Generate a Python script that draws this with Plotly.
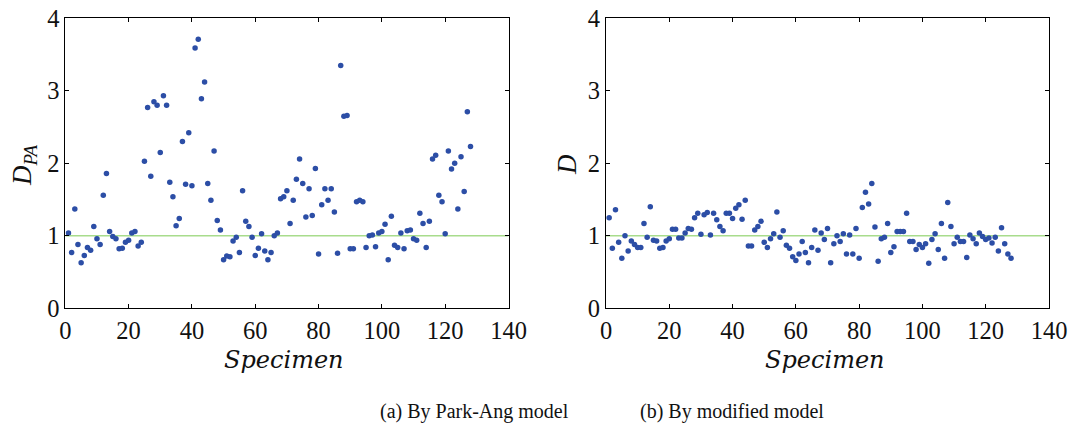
import plotly.graph_objects as go

specimen = list(range(1, 129))

d_pa = [
    1.04, 0.77, 1.37, 0.88, 0.63, 0.73, 0.84, 0.80, 1.13, 0.96,
    0.88, 1.56, 1.86, 1.06, 0.99, 0.96, 0.82, 0.83, 0.91, 0.94,
    1.04, 1.06, 0.86, 0.91, 2.03, 2.77, 1.82, 2.85, 2.80, 2.15,
    2.93, 2.80, 1.74, 1.54, 1.14, 1.24, 2.30, 1.71, 2.42, 1.69,
    3.59, 3.71, 2.89, 3.12, 1.72, 1.49, 2.17, 1.21, 1.08, 0.67,
    0.72, 0.71, 0.93, 0.98, 0.77, 1.62, 1.20, 1.13, 0.98, 0.73,
    0.83, 1.03, 0.79, 0.67, 0.77, 1.00, 1.04, 1.51, 1.54, 1.62,
    1.17, 1.49, 1.78, 2.06, 1.72, 1.26, 1.65, 1.28, 1.93, 0.75,
    1.43, 1.65, 1.49, 1.65, 1.33, 0.76, 3.35, 2.65, 2.66, 0.82,
    0.82, 1.47, 1.49, 1.47, 0.84, 1.00, 1.01, 0.85, 1.04, 1.06,
    1.16, 0.67, 1.27, 0.87, 0.84, 1.04, 0.82, 1.07, 1.08, 0.96,
    0.94, 1.31, 1.17, 0.84, 1.20, 2.06, 2.11, 1.56, 1.47, 1.03,
    2.17, 1.92, 2.00, 1.37, 2.09, 1.61, 2.71, 2.23,
]

d_mod = [
    1.25, 0.83, 1.36, 0.91, 0.69, 1.00, 0.79, 0.93, 0.88, 0.84,
    0.84, 1.17, 0.98, 1.40, 0.94, 0.93, 0.83, 0.84, 0.93, 0.96,
    1.09, 1.09, 0.97, 0.97, 1.04, 1.10, 1.09, 1.25, 1.31, 1.02,
    1.29, 1.32, 1.01, 1.31, 1.22, 1.13, 1.07, 1.31, 1.31, 1.24,
    1.38, 1.43, 1.23, 1.49, 0.86, 0.86, 1.08, 1.13, 1.20, 0.91,
    0.84, 0.96, 1.03, 1.33, 0.98, 1.07, 0.87, 0.83, 0.71, 0.66,
    0.75, 0.92, 0.77, 0.63, 0.84, 1.08, 0.80, 1.04, 0.95, 1.10,
    0.63, 0.89, 1.00, 0.92, 1.03, 0.75, 1.01, 0.75, 1.10, 0.69,
    1.39, 1.60, 1.44, 1.72, 1.12, 0.65, 0.96, 0.98, 1.17, 0.77,
    0.85, 1.06, 1.06, 1.06, 1.31, 0.92, 0.92, 0.81, 0.88, 0.84,
    0.89, 0.62, 0.95, 1.03, 0.81, 1.17, 0.69, 1.46, 1.13, 0.89,
    0.98, 0.92, 0.92, 0.70, 1.01, 0.96, 0.89, 1.04, 0.99, 0.95,
    0.97, 0.90, 0.98, 0.79, 1.11, 0.89, 0.75, 0.69,
]

x_ticks = [0, 20, 40, 60, 80, 100, 120, 140]
y_ticks = [0, 1, 2, 3, 4]
ref_x = [0, 140]
ref_y = [1, 1]

dot_color = "#2c4ea6"
line_color = "#a8dc8c"
serif = "Liberation Serif"
wide_serif = "DejaVu Serif"

W, H = 1076, 426
OX, OY = 8, 8  # page body margin offset


def px(v):
    return (v - OX) / W


def py(v):
    return 1 - (v - OY) / H


fig = go.Figure()
for i, vals in enumerate([d_pa, d_mod]):
    xa = "x" if i == 0 else "x2"
    ya = "y" if i == 0 else "y2"
    fig.add_trace(go.Scatter(x=ref_x, y=ref_y, mode="lines",
                             line=dict(color=line_color, width=1.5),
                             xaxis=xa, yaxis=ya, showlegend=False, hoverinfo="skip"))
    fig.add_trace(go.Scatter(x=specimen, y=vals, mode="markers",
                             marker=dict(color=dot_color, size=5.5, line=dict(width=0)),
                             xaxis=xa, yaxis=ya, showlegend=False))

ydom = [py(308.3), py(18.3)]
axis_common = dict(showline=True, linecolor="black", linewidth=1, mirror="allticks",
                   ticks="inside", ticklen=4, tickcolor="black", showgrid=False,
                   zeroline=False, automargin=False, ticklabeloverflow="allow",
                   tickfont=dict(family=serif, size=24.5, color="#111"))

fig.update_layout(
    width=W, height=H,
    margin=dict(l=0, r=0, t=0, b=0, pad=0, autoexpand=False),
    paper_bgcolor="white", plot_bgcolor="white",
    xaxis=dict(domain=[px(65.3), px(508.5)], range=[0, 140], tickvals=x_ticks,
               anchor="y", **axis_common),
    yaxis=dict(domain=ydom, range=[0, 4], tickvals=y_ticks, anchor="x", **axis_common),
    xaxis2=dict(domain=[px(606), px(1049)], range=[0, 140], tickvals=x_ticks,
                anchor="y2", **axis_common),
    yaxis2=dict(domain=ydom, range=[0, 4], tickvals=y_ticks, anchor="x2", **axis_common),
)

ann_font = dict(family=serif, size=27, color="#111")
fig.add_annotation(x=px(24), y=py(165), xref="paper", yref="paper",
                   xanchor="center", yanchor="middle",
                   text="<i>D</i><sub><i>PA</i></sub>", textangle=-90, showarrow=False,
                   font=ann_font)
fig.add_annotation(x=px(567), y=py(165), xref="paper", yref="paper",
                   xanchor="center", yanchor="middle",
                   text="<i>D</i>", textangle=-90, showarrow=False, font=ann_font)
spec_font = dict(family=wide_serif, size=24, color="#111")
fig.add_annotation(x=px(284), y=py(360), xref="paper", yref="paper",
                   xanchor="center", yanchor="middle",
                   text="<i>Specimen</i>", showarrow=False, font=spec_font)
fig.add_annotation(x=px(825), y=py(360), xref="paper", yref="paper",
                   xanchor="center", yanchor="middle",
                   text="<i>Specimen</i>", showarrow=False, font=spec_font)
cap_font = dict(family=serif, size=20, color="#111")
fig.add_annotation(x=px(474), y=py(411), xref="paper", yref="paper",
                   xanchor="center", yanchor="middle",
                   text="(a) By Park-Ang model", showarrow=False, font=cap_font)
fig.add_annotation(x=px(732), y=py(411), xref="paper", yref="paper",
                   xanchor="center", yanchor="middle",
                   text="(b) By modified model", showarrow=False, font=cap_font)

fig.write_html("out.html")
